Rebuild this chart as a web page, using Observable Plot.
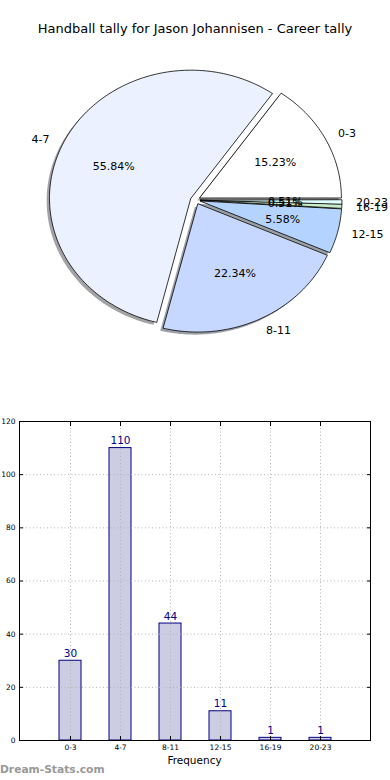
<!DOCTYPE html>
<html><head><meta charset="utf-8">
<script src="https://cdn.jsdelivr.net/npm/d3@7"></script>
<script src="https://cdn.jsdelivr.net/npm/@observablehq/plot@0.6"></script>
<style>
body{margin:0;background:#fff;font-family:"DejaVu Sans",sans-serif;}
#wrap{position:relative;width:390px;height:780px;overflow:hidden;background:#fff;}
#pie{position:absolute;top:0;left:0;}
#title{position:absolute;top:21px;left:0;width:390px;text-align:center;font-size:13px;color:#000;}
#bar{position:absolute;top:400px;left:0;}
#xlabel{position:absolute;top:754px;left:19px;width:351px;text-align:center;font-size:10.5px;color:#000;}
#foot{position:absolute;left:0;top:763px;font-size:10.7px;color:#999;font-weight:bold;}
</style></head><body>
<div id="wrap"><div id="pie"></div><div id="title"></div><div id="bar"></div><div id="xlabel"></div><div id="foot"></div></div>
<script>
const categories = ["0-3","4-7","8-11","12-15","16-19","20-23"];
const counts = [30,110,44,11,1,1];
const sliceColors = ["#FFFFFF","#EBF1FF","#C6D8FF","#B4D4FF","#C9EBC9","#E1FFFF"];
const yTicks = [0,20,40,60,80,100,120];
const titleText = "Handball tally for Jason Johannisen - Career tally";
const xLabelText = "Frequency";
const footerText = "Dream-Stats.com";

document.getElementById("title").textContent = titleText;
document.getElementById("xlabel").textContent = xLabelText;
document.getElementById("foot").textContent = footerText;

// ---- pie geometry (matplotlib style, ccw from 3 o'clock) ----
const total = d3.sum(counts);
const explode = 0.035;
const slices = [];
let acc = 0;
categories.forEach((c, i) => {
  const frac = counts[i] / total;
  const a0 = acc, a1 = acc + frac * 2 * Math.PI; acc = a1;
  const mid = (a0 + a1) / 2;
  slices.push({c, i, frac, a0, a1, mid,
    cx: explode * Math.cos(mid), cy: explode * Math.sin(mid), color: sliceColors[i]});
});
function poly(s, dx = 0, dy = 0) {
  const pts = [{x: s.cx + dx, y: s.cy + dy}];
  const n = Math.max(2, Math.ceil((s.a1 - s.a0) / (Math.PI / 180)));
  for (let k = 0; k <= n; k++) {
    const t = s.a0 + (s.a1 - s.a0) * k / n;
    pts.push({x: s.cx + dx + Math.cos(t), y: s.cy + dy + Math.sin(t)});
  }
  return pts;
}
const shadowMarks = slices.map(s => {
  const c = d3.rgb(s.color);
  const sc = d3.rgb(c.r * 0.3, c.g * 0.3, c.b * 0.3).formatHex();
  return Plot.line(poly(s, -0.02, -0.02), {x: "x", y: "y", curve: "linear-closed", fill: sc, fillOpacity: 0.5, stroke: "none"});
});
const wedgeMarks = slices.map(s =>
  Plot.line(poly(s), {x: "x", y: "y", curve: "linear-closed", fill: s.color, stroke: "#000", strokeWidth: 0.8}));
const labelData = slices.map(s => ({
  text: s.c,
  x: s.cx + 1.1 * Math.cos(s.mid), y: s.cy + 1.1 * Math.sin(s.mid), right: Math.cos(s.mid) > 0,
  px: s.cx + 0.6 * Math.cos(s.mid), py: s.cy + 0.6 * Math.sin(s.mid),
  pct: (s.frac * 100).toFixed(2) + "%"
}));

const pie = Plot.plot({
  width: 390, height: 400, margin: 0,
  x: {domain: [-1.378, 1.378], axis: null},
  y: {domain: [-1.566, 1.559], axis: null},
  style: {fontFamily: "DejaVu Sans, sans-serif", background: "transparent"},
  marks: [
    ...shadowMarks,
    ...wedgeMarks,
    Plot.text(labelData.filter(d => d.right), {x: "x", y: "y", text: "text", textAnchor: "start", fontSize: 11, fill: "#000"}),
    Plot.text(labelData.filter(d => !d.right), {x: "x", y: "y", text: "text", textAnchor: "end", fontSize: 11, fill: "#000"}),
    Plot.text(labelData, {x: "px", y: "py", text: "pct", fontSize: 11, fill: "#000"})
  ]
});
document.getElementById("pie").appendChild(pie);

// ---- bar chart ----
const barData = categories.map((c, i) => ({cat: c, count: counts[i]}));
const bar = Plot.plot({
  width: 390, height: 380,
  marginTop: 21, marginBottom: 40, marginLeft: 19, marginRight: 20,
  x: {type: "band", domain: categories, paddingInner: 0.56, paddingOuter: 0.79},
  y: {domain: [0, 120]},
  style: {fontFamily: "DejaVu Sans, sans-serif", background: "transparent"},
  marks: [
    Plot.barY(barData, {x: "cat", y: "count", fill: "#CCCCE3", stroke: "#000080", strokeWidth: 1}),
    Plot.gridX({stroke: "#b4b4b4", strokeOpacity: 1, strokeDasharray: "1,2.5"}),
    Plot.gridY(yTicks, {stroke: "#b4b4b4", strokeOpacity: 1, strokeDasharray: "1,2.5"}),
    Plot.frame({stroke: "#000", strokeWidth: 1}),
    Plot.axisY(yTicks, {anchor: "left", tickSize: -4, tickPadding: 8, fontSize: 7.5, label: null, tickFormat: d => d}),
    Plot.axisY(yTicks, {anchor: "right", tickSize: -4, label: null, tickFormat: () => ""}),
    Plot.axisX({anchor: "bottom", tickSize: -4, tickPadding: 8.5, fontSize: 7.5, label: null}),
    Plot.axisX({anchor: "top", tickSize: -4, label: null, tickFormat: () => ""}),
    Plot.text(barData, {x: "cat", y: "count", text: d => String(d.count), dy: -4, lineAnchor: "bottom", fontSize: 10.5, fill: "#00008B"})
  ]
});
document.getElementById("bar").appendChild(bar);
</script>
</body></html>
